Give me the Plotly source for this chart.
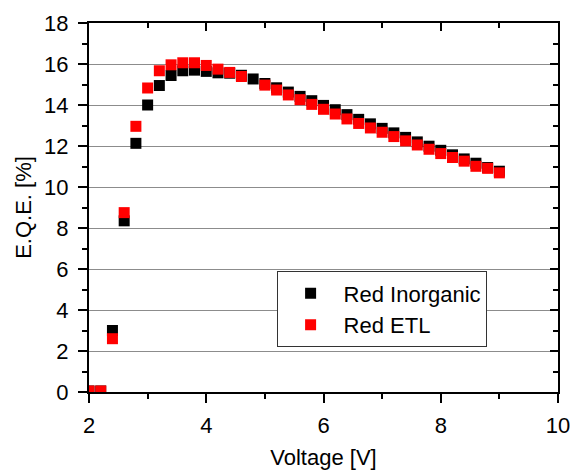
import plotly.graph_objects as go

voltage = [2.0, 2.2, 2.4, 2.6, 2.8, 3.0, 3.2, 3.4, 3.6, 3.8, 4.0, 4.2, 4.4, 4.6, 4.8,
           5.0, 5.2, 5.4, 5.6, 5.8, 6.0, 6.2, 6.4, 6.6, 6.8, 7.0, 7.2, 7.4,
           7.6, 7.8, 8.0, 8.2, 8.4, 8.6, 8.8, 9.0]

red_inorganic = [0.05, 0.05, 3.0, 8.35, 12.13, 14.0, 14.95, 15.44, 15.67, 15.70, 15.64, 15.57,
                 15.55, 15.45, 15.27,
                 15.05, 14.84, 14.63, 14.42, 14.21, 13.98, 13.77, 13.53, 13.30, 13.08, 12.86,
                 12.64, 12.42, 12.20, 11.99, 11.79, 11.57, 11.37, 11.16, 10.95, 10.77]

red_etl = [0.05, 0.05, 2.6, 8.75, 12.96, 14.83, 15.67, 15.96, 16.06, 16.06, 15.93, 15.75,
           15.59, 15.39, None,
           14.97, 14.73, 14.49, 14.26, 14.03, 13.79, 13.56, 13.32, 13.10, 12.88, 12.67,
           12.46, 12.25, 12.05, 11.84, 11.63, 11.44, 11.26, 11.01, 10.91, 10.69]

x_ticks = [2, 4, 6, 8, 10]
y_ticks = [0, 2, 4, 6, 8, 10, 12, 14, 16, 18]

FONT = "Liberation Sans, Arial, sans-serif"
FS = 22

fig = go.Figure()
fig.add_trace(go.Scatter(x=voltage, y=red_inorganic, mode="markers", name="Red Inorganic",
                         xaxis="x", yaxis="y",
                         marker=dict(symbol="square", size=11, color="black", line=dict(width=0))))
fig.add_trace(go.Scatter(x=voltage, y=red_etl, mode="markers", name="Red ETL",
                         xaxis="x2", yaxis="y2",
                         marker=dict(symbol="square", size=11, color="#ff0000", line=dict(width=0))))

axis_common = dict(showline=True, linecolor="black", linewidth=2, zeroline=False,
                   tickcolor="black", tickwidth=1.5, automargin=False,
                   tickfont=dict(family=FONT, size=FS, color="black"))

fig.update_layout(
    width=573, height=471,
    margin=dict(l=89, r=15, t=23, b=79),
    paper_bgcolor="white", plot_bgcolor="white",
    font=dict(family=FONT, size=FS, color="black"),
    showlegend=True,
    legend=dict(x=0.40, y=0.327, xanchor="left", yanchor="top",
                bgcolor="white", bordercolor="#333333", borderwidth=1,
                font=dict(family=FONT, size=22, color="black"),
                traceorder="normal", itemwidth=56),
    xaxis=dict(range=[2, 10], tickvals=x_ticks, ticks="outside", ticklen=9,
               showgrid=False, ticklabelstandoff=4,
               minor=dict(dtick=1, tick0=0, ticks="outside", ticklen=5, tickcolor="black", tickwidth=1.5),
               title=dict(text="Voltage [V]", font=dict(family=FONT, size=FS), standoff=12),
               **axis_common),
    yaxis=dict(range=[0, 18], tickvals=y_ticks, ticks="outside", ticklen=9,
               showgrid=True, gridcolor="#8c8c8c", gridwidth=1, ticklabelstandoff=5,
               minor=dict(dtick=1, tick0=0, ticks="outside", ticklen=5, tickcolor="black", tickwidth=1.5),
               title=dict(text="E.Q.E. [%]", font=dict(family=FONT, size=FS), standoff=6),
               **axis_common),
    xaxis2=dict(range=[2, 10], overlaying="x", side="top", tickvals=x_ticks, ticks="inside", ticklen=8,
                showticklabels=False, showgrid=False,
                minor=dict(dtick=1, tick0=0, ticks="inside", ticklen=5, tickcolor="black", tickwidth=1.5),
                **axis_common),
    yaxis2=dict(range=[0, 18], overlaying="y", side="right", tickvals=y_ticks, ticks="inside", ticklen=8,
                showticklabels=False, showgrid=False,
                minor=dict(dtick=1, tick0=0, ticks="inside", ticklen=5, tickcolor="black", tickwidth=1.5),
                **axis_common),
)

fig.write_html("out.html", config={"displayModeBar": False},
               post_script="document.body.style.margin='0';")
